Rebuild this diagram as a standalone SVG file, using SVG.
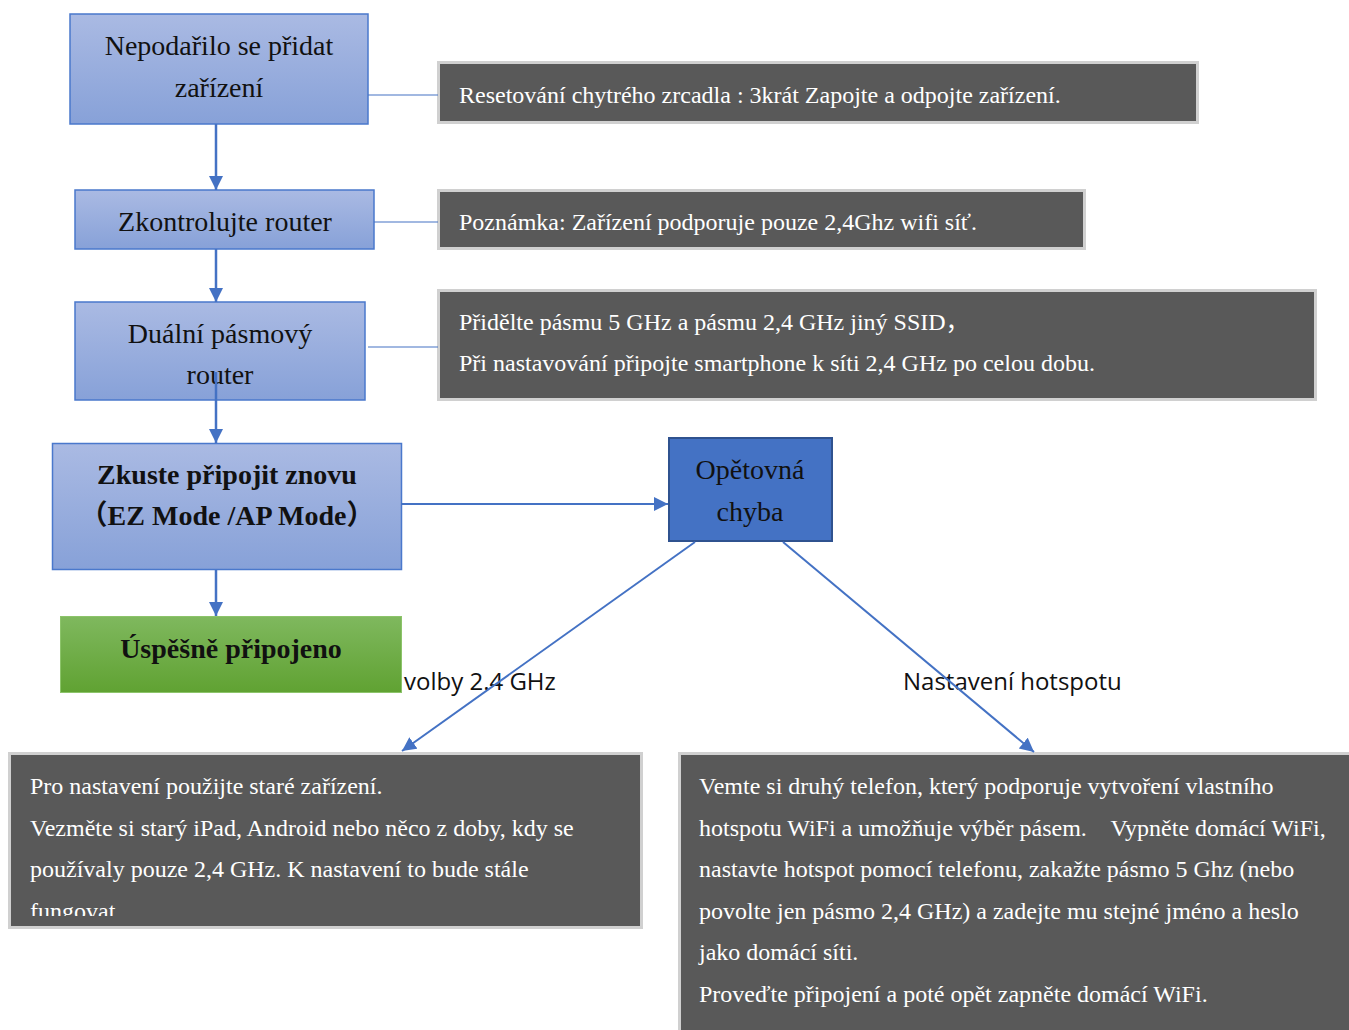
<svg xmlns="http://www.w3.org/2000/svg" width="1349" height="1030" viewBox="0 0 1349 1030">
<defs>
<linearGradient id="gBlue" x1="0" y1="0" x2="0" y2="1">
<stop offset="0" stop-color="#aabae3"/><stop offset="1" stop-color="#87a1d8"/>
</linearGradient>
<linearGradient id="gGreen" x1="0" y1="0" x2="0" y2="1">
<stop offset="0" stop-color="#7fb85e"/><stop offset="1" stop-color="#60a232"/>
</linearGradient>
<marker id="ah" markerUnits="userSpaceOnUse" markerWidth="16" markerHeight="16" refX="14" refY="7" orient="auto">
<path d="M0,0 L14,7 L0,14 z" fill="#4472c4"/>
</marker>
<clipPath id="clipL"><rect x="9" y="753" width="633" height="163"/></clipPath>
</defs>
<style>
.blue{fill:url(#gBlue);stroke:#4a78cc;stroke-width:1.5}
.dark{fill:#595959;stroke:#d0d0d0;stroke-width:3}
.t{font-family:"Liberation Serif","Noto Sans CJK SC",serif;font-size:28px;fill:#111;text-anchor:middle;text-spacing-trim:space-all}
.b{font-weight:bold}
.w{font-family:"Liberation Serif","Noto Sans CJK SC",serif;font-size:24px;fill:#fff;white-space:pre}
.lbl{font-family:"Open Sans","Noto Sans",sans-serif;font-size:24px;fill:#111}
.arr{stroke:#4472c4;stroke-width:2.5;fill:none;marker-end:url(#ah)}
.darr{stroke:#4472c4;stroke-width:2;fill:none;marker-end:url(#ah)}
.ln{stroke:#4472c4;stroke-width:1.2;fill:none}
</style>

<g id="labels">
<text class="lbl" x="404" y="690">volby 2.4 GHz</text>
<text class="lbl" x="903" y="690">Nastavení hotspotu</text>
</g>

<g id="n1">
<rect class="blue" x="70" y="14" width="298" height="110"/>
<text class="t" x="219" y="55">Nepodařilo se přidat</text>
<text class="t" x="219" y="97">zařízení</text>
</g>
<g id="d1">
<rect class="dark" x="438.5" y="62.5" width="759" height="60"/>
<text class="w" x="459" y="103">Resetování chytrého zrcadla : 3krát Zapojte a odpojte zařízení.</text>
</g>
<g id="n2">
<rect class="blue" x="75" y="190" width="299" height="59"/>
<text class="t" x="225" y="231">Zkontrolujte router</text>
</g>
<g id="d2">
<rect class="dark" x="438.5" y="190.5" width="646" height="58"/>
<text class="w" x="459" y="230">Poznámka: Zařízení podporuje pouze 2,4Ghz wifi síť.</text>
</g>
<g id="n3">
<rect class="blue" x="75" y="302" width="290" height="98"/>
<text class="t" x="220" y="343">Duální pásmový</text>
<text class="t" x="220" y="384">router</text>
</g>
<g id="d3">
<rect class="dark" x="438.5" y="290.5" width="877" height="109"/>
<text class="w" x="459" y="330">Přidělte pásmu 5 GHz a pásmu 2,4 GHz jiný SSID，</text>
<text class="w" x="459" y="371">Při nastavování připojte smartphone k síti 2,4 GHz po celou dobu.</text>
</g>
<g id="n4">
<rect class="blue" x="52.5" y="443.5" width="349" height="126"/>
<text class="t b" x="227" y="484">Zkuste připojit znovu</text>
<text class="t b" x="227" y="525">（EZ Mode /AP Mode）</text>
</g>
<g id="n5">
<rect x="669" y="438" width="163" height="103" fill="#4472c4" stroke="#2f528f" stroke-width="2"/>
<text class="t" x="750" y="479">Opětovná</text>
<text class="t" x="750" y="521">chyba</text>
</g>
<g id="n6">
<rect x="60.5" y="616.5" width="341" height="76" fill="url(#gGreen)" stroke="#8cc46a" stroke-width="1"/>
<text class="t b" x="231" y="658">Úspěšně připojeno</text>
</g>
<g id="d4">
<rect class="dark" x="9.5" y="753.5" width="632" height="174"/>
<g clip-path="url(#clipL)">
<text class="w" x="30" y="794">Pro nastavení použijte staré zařízení.</text>
<text class="w" x="30" y="836">Vezměte si starý iPad, Android nebo něco z doby, kdy se</text>
<text class="w" x="30" y="877">používaly pouze 2,4 GHz. K nastavení to bude stále</text>
<text class="w" x="30" y="919">fungovat.</text>
</g>
</g>
<g id="d5">
<rect class="dark" x="679.5" y="753.5" width="680" height="290"/>
<text class="w" x="699" y="794">Vemte si druhý telefon, který podporuje vytvoření vlastního</text>
<text class="w" x="699" y="836" xml:space="preserve">hotspotu WiFi a umožňuje výběr pásem.    Vypněte domácí WiFi,</text>
<text class="w" x="699" y="877">nastavte hotspot pomocí telefonu, zakažte pásmo 5 Ghz (nebo</text>
<text class="w" x="699" y="919">povolte jen pásmo 2,4 GHz) a zadejte mu stejné jméno a heslo</text>
<text class="w" x="699" y="960">jako domácí síti.</text>
<text class="w" x="699" y="1002">Proveďte připojení a poté opět zapněte domácí WiFi.</text>
</g>

<g id="connectors">
<line class="ln" x1="368" y1="95" x2="438" y2="95"/>
<line class="ln" x1="374" y1="222" x2="438" y2="222"/>
<line class="ln" x1="368" y1="347" x2="438" y2="347"/>
<line class="arr" x1="216" y1="124" x2="216" y2="190"/>
<line class="arr" x1="216" y1="249" x2="216" y2="302"/>
<line class="arr" x1="216" y1="372" x2="216" y2="443"/>
<line class="arr" x1="216" y1="570" x2="216" y2="616"/>
<line class="darr" x1="401" y1="504" x2="668" y2="504"/>
<line class="darr" x1="695" y1="542" x2="402" y2="751"/>
<line class="darr" x1="783" y1="542" x2="1034" y2="752"/>
</g>
</svg>
